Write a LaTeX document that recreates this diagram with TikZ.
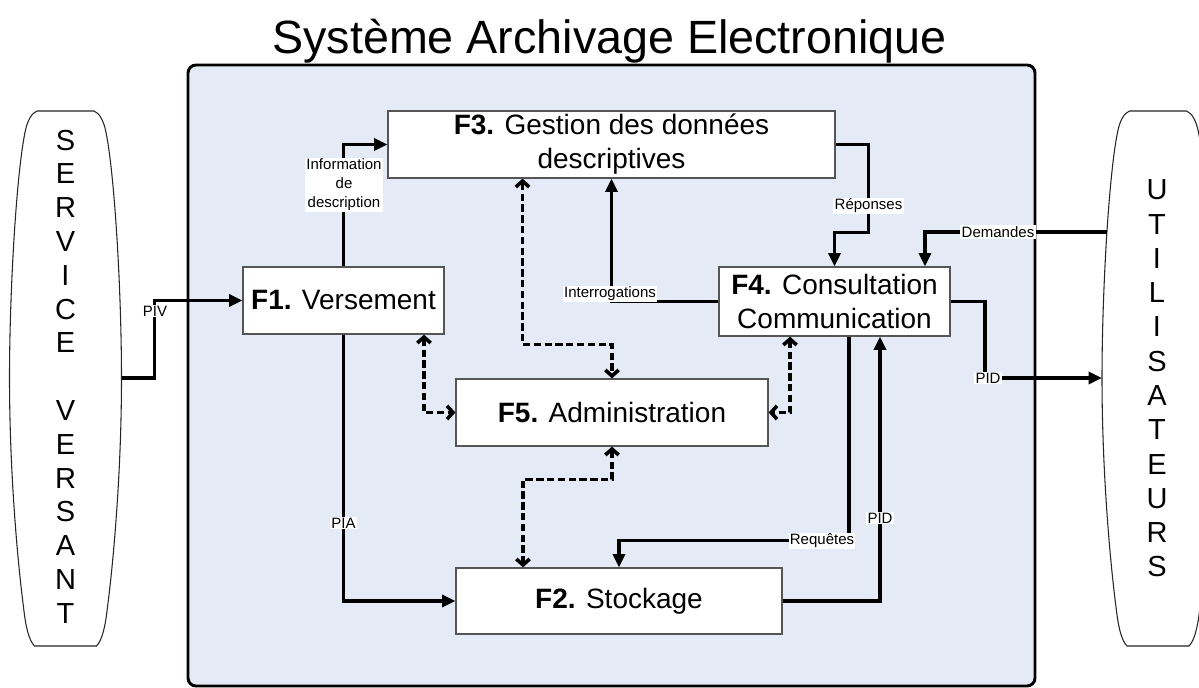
\documentclass[tikz,border=0pt]{standalone}
\usepackage{fontspec}
\setmainfont{Liberation Sans}
\usetikzlibrary{arrows.meta,calc}
\definecolor{frameblue}{HTML}{E4EBF7}
\definecolor{boxgray}{HTML}{555555}
\begin{document}
\begin{tikzpicture}[x=0.75pt,y=-0.75pt,
  fbox/.style={draw=boxgray, line width=0.9pt, fill=white, inner sep=0pt, align=center,
    font=\fontsize{21}{25.5}\selectfont},
  arr/.style={line width=2.4pt, -{Triangle[length=10pt,width=9pt]}},
  darr/.style={line width=2.7pt, dash pattern=on 5.5pt off 2.6pt,
    {Straight Barb[length=4.5pt,width=10pt]}-{Straight Barb[length=4.5pt,width=10pt]}},
  lbl/.style={fill=white, inner sep=1pt, align=center,
    font=\fontsize{11.25}{14.25}\selectfont},
  letters/.style={align=center, inner sep=0pt},
  pics/barrel/.style={code={
    \draw[line width=0.8pt, draw=black!85, fill=white]
      (-28.5,0) -- (28.5,0)
      .. controls (34,2) and (38,10) .. (40,19)
      .. controls (49,60) and (56,180) .. (56,267)
      .. controls (56,360) and (48,450) .. (42,496)
      .. controls (40,514) and (37,529) .. (31,535)
      -- (-31,535)
      .. controls (-37,529) and (-40,514) .. (-42,496)
      .. controls (-48,450) and (-56,360) .. (-56,267)
      .. controls (-56,180) and (-49,60) .. (-40,19)
      .. controls (-38,10) and (-34,2) .. (-28.5,0) -- cycle;
  }}
]
\useasboundingbox (0,0) rectangle (1199,688);

% title
\node[anchor=base, inner sep=0pt, font=\fontsize{35}{42}\selectfont] (title) at (609.5,54)
  {Système Archivage Electronique};

% system frame
\draw[line width=2.2pt, rounded corners=6pt, fill=frameblue] (188,65) rectangle (1035,686);

% external entities
\pic at (65.5,111) {barrel};
\pic at (1158,111) {barrel};
\node[letters, font=\fontsize{21.75}{25.35}\selectfont] (sv) at (65.5,376.5)
  {S\\E\\R\\V\\I\\C\\E\\ \\V\\E\\R\\S\\A\\N\\T};
\node[letters, font=\fontsize{21.75}{25.7}\selectfont] (ut) at (1157,378.5)
  {U\\T\\I\\L\\I\\S\\A\\T\\E\\U\\R\\S};
\coordinate (Sout) at (121.5,378);
\coordinate (Uout) at (1102,378);
\coordinate (Udem) at (1107,232);

% function boxes
\node[fbox, minimum width=150.75pt, minimum height=50.25pt] (F1) at (343.5,300.5)
  {\textbf{F1.} Versement};
\node[fbox, minimum width=335.25pt, minimum height=50.25pt] (F3) at (611.5,144.5)
  {\textbf{F3.} Gestion des données\\descriptives};
\node[fbox, minimum width=173.25pt, minimum height=51.75pt] (F4) at (834.5,301.5)
  {\textbf{F4.} Consultation\\Communication};
\node[fbox, minimum width=234pt, minimum height=50.25pt] (F5) at (612,412.5)
  {\textbf{F5.} Administration};
\node[fbox, minimum width=244.5pt, minimum height=49.5pt] (F2) at (619,601)
  {\textbf{F2.} Stockage};

% solid flows
\draw[arr] (Sout) -| ($(F1.west)+(-88,0)$) -- (F1.west);
\draw[arr] (F1.north) |- (F3.west);
\draw[arr] (F1.south) |- (F2.west);
\draw[arr] (F2.east) -| ($(F4.south)+(45.5,0)$);
\draw[arr] ($(F4.south)+(14.5,0)$) |- ($(F2.north)+(0,-27)$) -- (F2.north);
\draw[arr] (F4.west) -| (F3.south);
\draw[arr] (F3.east) -| ($(F4.north)+(34,-34)$) -| (F4.north);
\draw[arr] (Udem) -| ($(F4.north)+(90.5,0)$);
\draw[arr] (F4.east) -| ($(Uout)+(-117,0)$) -- (Uout);

% dashed administration links
\draw[darr] ($(F1.south)+(80.5,0)$) |- (F5.west);
\draw[darr] ($(F3.south)+(-89,0)$) |- ($(F5.north)+(0,-34)$) -- (F5.north);
\draw[darr] ($(F4.south)+(-44.5,0)$) |- (F5.east);
\draw[darr] (F5.south) -- ++(0,33) -| ($(F2.north)+(-96,0)$);

% labels
\node[lbl] (lpiv) at (155,311) {PIV};
\node[lbl] (linfo) at (344,185) {Information\\de\\description};
\node[lbl] (lpia) at (343.5,523) {PIA};
\node[lbl] (lpid1) at (880,518) {PID};
\node[lbl] (lreq) at (822,541) {Requêtes};
\node[lbl] (lint) at (610,294) {Interrogations};
\node[lbl] (lrep) at (868.5,206) {Réponses};
\node[lbl] (ldem) at (998,232) {Demandes};
\node[lbl] (lpid2) at (988,378) {PID};
\end{tikzpicture}
\end{document}
